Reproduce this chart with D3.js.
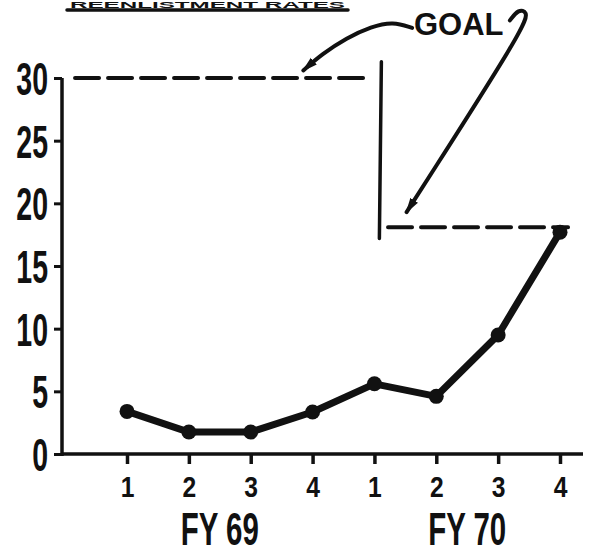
<!DOCTYPE html>
<html><head><meta charset="utf-8">
<script src="https://cdn.jsdelivr.net/npm/d3@7"></script>
<style>body{margin:0;background:#fff}svg{display:block}</style>
</head><body>
<svg id="c" width="592" height="555"></svg>
<script>
// ---- data ----
const quarterIndex = [1, 2, 3, 4, 5, 6, 7, 8];
const quarterLabels = ["1", "2", "3", "4", "1", "2", "3", "4"];
const values = [3.4, 1.75, 1.75, 3.35, 5.6, 4.6, 9.5, 17.7];
const fiscalYears = ["FY 69", "FY 70"];
const fiscalYearCenters = [2.5, 6.5];
const yTicks = [0, 5, 10, 15, 20, 25, 30];
const goalLevels = [30, 18.1];
const goalStarts = [0.16, 5.22];
const goalEnds = [4.96, 8.13];
const goalDivider = 5.08;
const goalDividerSpan = [17.2, 31.3];
const titleText = "REENLISTMENT RATES";
const goalText = "GOAL";
// annotation arrows in data units (quarter index, value)
const arrowA = [[5.61, 34.0], [5.3, 34.5], [4.95, 34.1], [4.55, 33.2], [4.15, 31.9], [3.85, 30.6]];
const arrowB = [[7.19, 34.6], [7.33, 35.5], [7.47, 35.3], [7.45, 34.2], [5.78, 21.3], [5.52, 19.3]];

const svg = d3.select("#c");
const x = d3.scaleLinear().domain([1, 8]).range([127, 560]);
const y = d3.scaleLinear().domain([0, 30]).range([454, 78]);
const ink = "#111";
const fam = "'Liberation Sans', Arial, sans-serif";

// title (only a sliver above its underline)
svg.append("text").attr("font-family", fam).attr("font-weight", "bold")
  .attr("font-size", 9.5).attr("fill", ink)
  .attr("x", 70).attr("y", 7.5)
  .attr("textLength", 275).attr("lengthAdjust", "spacingAndGlyphs")
  .text(titleText);
svg.append("line").attr("x1", 67).attr("x2", 348).attr("y1", 10).attr("y2", 10)
  .attr("stroke", ink).attr("stroke-width", 3.5).attr("stroke-linecap", "round");

// y axis
const yAxis = svg.append("g").attr("transform", "translate(62,0)")
  .call(d3.axisLeft(y).tickValues(yTicks).tickSize(8).tickPadding(12).tickFormat(d3.format("d")));
yAxis.select(".domain").attr("stroke", ink).attr("stroke-width", 3.5).attr("d", `M0,${y(30)}V${y(0)+2}`);
yAxis.selectAll(".tick line").attr("stroke", ink).attr("stroke-width", 3);
const sy = 0.62;
yAxis.selectAll(".tick text").attr("font-family", fam).attr("font-weight", "bold")
  .attr("font-size", 46).attr("fill", ink).attr("dy", null)
  .attr("x", -14 / sy).attr("y", 16.5)
  .attr("transform", `scale(${sy},1)`);

// x axis
const xAxis = svg.append("g").attr("transform", `translate(0,${y(0)})`)
  .call(d3.axisBottom(x).tickValues(quarterIndex).tickSize(10).tickPadding(12)
    .tickFormat((d, i) => quarterLabels[i]));
xAxis.select(".domain").attr("stroke", ink).attr("stroke-width", 3.5).attr("d", `M61,0H583`);
xAxis.selectAll(".tick line").attr("stroke", ink).attr("stroke-width", 3.5);
const sx = 0.85;
xAxis.selectAll(".tick text").attr("font-family", fam).attr("font-weight", "bold")
  .attr("font-size", 29).attr("fill", ink).attr("dy", null).attr("y", 43)
  .attr("text-anchor", "middle")
  .attr("transform", `scale(${sx},1)`).attr("x", 0);

// fiscal year labels
svg.selectAll(".fy").data(fiscalYears).join("text").attr("class", "fy")
  .attr("font-family", fam).attr("font-weight", "bold").attr("font-size", 46).attr("fill", ink)
  .attr("text-anchor", "middle")
  .attr("transform", (d, i) => `translate(${x(fiscalYearCenters[i])},545) scale(0.64,1)`)
  .text(d => d);

// goal dashed lines
svg.selectAll(".goal").data(goalLevels).join("line").attr("class", "goal")
  .attr("x1", (d, i) => x(goalStarts[i])).attr("x2", (d, i) => x(goalEnds[i]))
  .attr("y1", d => y(d)).attr("y2", d => y(d))
  .attr("stroke", ink).attr("stroke-width", 4).attr("stroke-dasharray", "24,9")
  .attr("stroke-linecap", "round");
svg.append("line").attr("x1", x(goalDivider) + 2).attr("x2", x(goalDivider))
  .attr("y1", y(goalDividerSpan[1])).attr("y2", y(goalDividerSpan[0]))
  .attr("stroke", ink).attr("stroke-width", 3.5).attr("stroke-linecap", "round");

// GOAL text and arrows
svg.append("text").attr("font-family", fam).attr("font-weight", "bold").attr("font-size", 31)
  .attr("fill", ink).attr("x", 414).attr("y", 35).text(goalText);
const defs = svg.append("defs");
defs.append("marker").attr("id", "ah").attr("viewBox", "0 -5 16 10")
  .attr("refX", 14).attr("refY", 0).attr("markerWidth", 16).attr("markerHeight", 10)
  .attr("markerUnits", "userSpaceOnUse").attr("orient", "auto")
  .append("path").attr("d", "M0,-4.5L16,0L0,4.5Z").attr("fill", ink);
const aline = d3.line().x(d => x(d[0])).y(d => y(d[1])).curve(d3.curveBasis);
[arrowA, arrowB].forEach(pts => {
  svg.append("path").datum(pts).attr("d", aline)
    .attr("fill", "none").attr("stroke", ink).attr("stroke-width", 4).attr("stroke-linecap", "round")
    .attr("marker-end", "url(#ah)");
});

// data line
const dline = d3.line().x((d, i) => x(quarterIndex[i])).y(d => y(d));
svg.append("path").datum(values).attr("d", dline).attr("fill", "none")
  .attr("stroke", ink).attr("stroke-width", 7).attr("stroke-linejoin", "round");
svg.selectAll(".pt").data(values).join("circle").attr("class", "pt")
  .attr("cx", (d, i) => x(quarterIndex[i])).attr("cy", d => y(d)).attr("r", 7.5).attr("fill", ink);
</script>
</body></html>
